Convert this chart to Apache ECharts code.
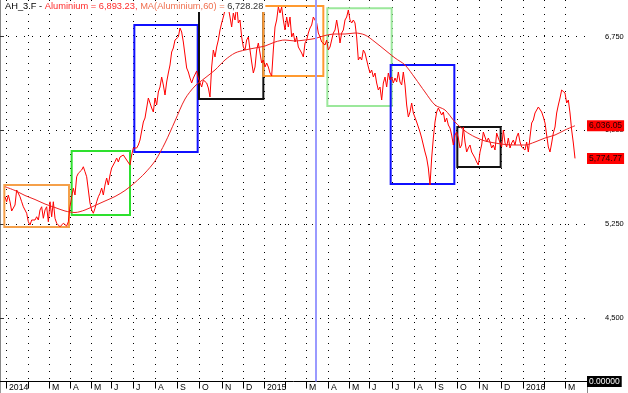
<!DOCTYPE html>
<html><head><meta charset="utf-8">
<script src="https://cdn.jsdelivr.net/npm/echarts@6/dist/echarts.min.js"></script>
<style>html,body{margin:0;padding:0;background:#fff}#c{width:628px;height:393px}</style>
</head><body><div id="c"></div>
<script>
// x unit: sample step (trading-day sample index). Prices sampled every step from priceStart.
const priceStart = 3;
const prices = [
5468,5428,5482,5428,5354,5362,5402,5522,5536,5468,
5428,5388,5376,5336,5268,5242,5282,5268,5282,5308,
5282,5362,5388,5296,5362,5388,5268,5428,5308,5428,
5296,5256,5268,5228,5224,5256,5268,5234,5268,5388,
5468,5536,5482,5628,5656,5656,5682,5708,5668,5628,
5522,5416,5362,5336,5376,5428,5468,5496,5538,5482,
5562,5618,5562,5642,5698,5682,5748,5778,5746,5786,
5778,5802,5786,5762,5746,5722,5802,5858,5866,5858,
5882,5922,5938,6066,6098,6178,6258,6218,6178,6146,
6258,6202,6306,6346,6426,6362,6282,6386,6458,6522,
6626,6658,6722,6706,6746,6818,6786,6706,6602,6498,
6466,6418,6378,6418,6434,6474,6418,6402,6346,6402,
6418,6378,6338,6266,6506,6642,6586,6666,6722,6802,
6858,6906,6962,6946,6978,6906,6826,6938,6882,7002,
6858,6882,6746,6666,6642,6722,6746,6642,6546,6458,
6506,6642,6698,6618,6538,6562,6506,6538,6506,6458,
6434,6642,6826,6882,6986,6938,6986,6882,6802,6906,
6826,6906,6746,6778,6706,6746,6666,6666,6618,6586,
6698,6722,6778,6818,6842,6906,6882,6858,6778,6746,
6706,6722,6682,6722,6642,6666,6722,6778,6802,6882,
6802,6698,6778,6802,6882,6906,6962,6882,6858,6882,
6858,6746,6562,6586,6562,6642,6618,6562,6506,6458,
6482,6426,6458,6378,6322,6346,6242,6378,6426,6346,
6458,6402,6426,6378,6418,6386,6466,6386,6362,6466,
6362,6202,6106,6146,6218,6138,6146,6066,6026,5986,
5938,5882,5826,5778,5698,5562,5778,5938,6066,6146,
6178,6186,6122,6146,6066,6098,6042,6018,5962,5882,
5962,5986,5938,5858,5882,6026,5906,5826,5858,5882,
5826,5802,5778,5746,5722,5826,5882,5986,6002,5906,
5938,5906,5858,5882,5842,5978,5938,5922,5866,6002,
5898,5866,5938,5858,5898,5922,5882,5946,5978,5906,
5866,5882,5842,5906,5826,5946,6058,6082,6138,6162,
6186,6202,6146,6106,6058,5962,5866,5826,5898,5978,
6026,6138,6202,6258,6322,6338,6298,6218,6242,6138,
6002,5898,5774.77
];
// 60-period moving average, read every maStep samples
const maStart = 3;
const maStep = 6;
const maValues = [
5548,5518,5478,5446,5410,5382,5354,5342,5362,5398,
5434,5470,5518,5582,5658,5754,5898,6074,6250,6354,
6418,6482,6562,6618,6642,6658,6674,6706,6722,6714,
6722,6734,6758,6770,6770,6778,6762,6706,6642,6578,
6522,6418,6306,6202,6162,6066,5994,5946,5914,5898,
5886,5882,5882,5906,5938,5962,6002,6036.05
];
// month ticks (sample index) and their labels
const monthTicks = [3.6,16.8,29.4,42,54.6,66.6,79.8,93,106.2,119.4,133.2,145.8,
  158.4,171,183.6,196.8,209.4,221.4,235.2,248.4,261,274.2,287.4,300.6,313.8,326.4,339];
const monthLabels = ['2014','','M','A','M','J','J','A','S','O','N','D',
  '2015','','M','A','M','J','J','A','S','O','N','D','2016','','M'];
const yTicks = [4500,5250,6000,6750];
// quarter boxes: start, end (sample index), high, low
const boxStart = [2.6, 43, 80.6, 119.4, 158, 196.4, 234.4, 274.4];
const boxEnd   = [41.4, 78, 118.6, 158, 194, 235, 272.6, 300.4];
const boxHigh  = [5562, 5834, 6842, 7018, 6994, 6976, 6522, 6026];
const boxLow   = [5226, 5322, 5826, 6250, 6434, 6194, 5570, 5706];
const cursorAt = 189.4;
const cursorPrice = 6893.23;
const cursorMA = 6728.28;
const zeroLabel = '0.00000';
const axisFloor = 3990;

const boxColors = ['#f5a04a','#2ee02e','#1010ff','#111111','#ff9a30','#9be89b','#1010ff','#111111'];
const FONT = '"Liberation Sans", Arial, sans-serif';
const fmt2 = v => v.toLocaleString('en-US',{minimumFractionDigits:2, maximumFractionDigits:2});

const chart = echarts.init(document.getElementById('c'));
const areas = boxStart.map((s,i)=>[
  {coord:[s, boxHigh[i]], itemStyle:{color:'rgba(0,0,0,0)', borderColor:boxColors[i], borderWidth:2}},
  {coord:[boxEnd[i], boxLow[i]]}
]);
const lastPrice = prices[prices.length-1];
const lastMA = maValues[maValues.length-1];
const hidden = {color:'rgba(0,0,0,0)', width:1, type:'solid'};
const tagLabel = (text, bg, fg) => ({show:true, position:'end', distance:0, formatter:text,
  backgroundColor:bg, color:fg, fontSize:8.5, padding:[1,2], fontFamily:FONT});
const LF = 9.3;

chart.setOption({
  animation:false,
  backgroundColor:'#fff',
  textStyle:{fontFamily:FONT},
  title:{
    left:3, top:1, padding:[1,2], backgroundColor:'#fff',
    text:'{a|AH_3.F - }{b|Aluminium = '+fmt2(cursorPrice)+', }{c|MA(Aluminium,60) = }{d|'+fmt2(cursorMA)+'}',
    textStyle:{fontFamily:FONT, fontSize:LF, fontWeight:'normal',
      rich:{a:{color:'#000',fontSize:LF,fontFamily:FONT}, b:{color:'#ff2a2a',fontSize:LF,fontFamily:FONT},
            c:{color:'#f07050',fontSize:LF,fontFamily:FONT}, d:{color:'#333',fontSize:LF,fontFamily:FONT}}}
  },
  graphic:[
    {type:'line', shape:{x1:0.5, y1:0, x2:0.5, y2:393}, style:{stroke:'#999', lineWidth:1}, silent:true},
    {type:'line', shape:{x1:587.5, y1:381, x2:587.5, y2:393}, style:{stroke:'#888', lineWidth:1}, silent:true}
  ],
  grid:{left:0, right:41, top:0, bottom:11.5, outerBoundsMode:'none', containLabel:false},
  xAxis:{
    type:'value', min:0, max:352.2,
    axisLine:{show:true, onZero:false, lineStyle:{color:'#000', width:1}},
    axisTick:{show:true, customValues:monthTicks, length:7, lineStyle:{color:'#000'}},
    axisLabel:{customValues:monthTicks.filter((t,i)=>monthLabels[i]!==''),
      formatter:v=>{const i=monthTicks.findIndex(t=>Math.abs(t-v)<0.01); return i>=0?monthLabels[i]:'';},
      align:'left', margin:2, padding:[0,0,0,3], fontSize:8.7, color:'#000', fontFamily:FONT},
    splitLine:{show:true, lineStyle:{color:'#000', width:1, type:[1,6]}}
  },
  yAxis:{
    type:'value', position:'right', min:axisFloor, max:7042,
    axisLine:{show:true, lineStyle:{color:'#888', width:1}},
    axisTick:{show:true, customValues:yTicks, length:4, lineStyle:{color:'#333'}},
    axisLabel:{customValues:yTicks, margin:18, fontSize:7.5, color:'#000', fontFamily:FONT,
      formatter:v=>v.toLocaleString('en-US')},
    splitLine:{show:true, lineStyle:{color:'#000', width:1, type:[1,7]}}
  },
  series:[
    {
      type:'line', name:'Aluminium', clip:false, symbol:'none',
      data:prices.map((v,i)=>[priceStart+i, v]),
      lineStyle:{color:'#ff0000', width:1}, itemStyle:{color:'#ff0000'}, z:3,
      markArea:{silent:true, data:areas},
      markLine:{silent:true, symbol:'none', animation:false, lineStyle:hidden,
        label:tagLabel(fmt2(lastPrice),'#ff0000','#200000'),
        data:[{yAxis:lastPrice}]}
    },
    {
      type:'line', name:'MA', clip:false, symbol:'none', smooth:0.3,
      data:maValues.map((v,j)=>[maStart+j*maStep, v]),
      lineStyle:{color:'#ee2020', width:1}, itemStyle:{color:'#ee2020'}, z:4,
      markLine:{silent:true, symbol:'none', animation:false, lineStyle:hidden,
        label:tagLabel(fmt2(lastMA),'#ff0000','#200000'),
        data:[{yAxis:lastMA}]}
    },
    {
      type:'line', name:'cursor', clip:false, symbol:'none', data:[[cursorAt, null]],
      markLine:{silent:true, symbol:'none', animation:false,
        data:[
          {xAxis:cursorAt, lineStyle:{color:'#9a9aff', width:2, type:'solid'}, label:{show:false}},
          {yAxis:axisFloor, lineStyle:hidden, label:tagLabel(zeroLabel,'#000','#fff')}
        ]}
    }
  ]
});
</script></body></html>
